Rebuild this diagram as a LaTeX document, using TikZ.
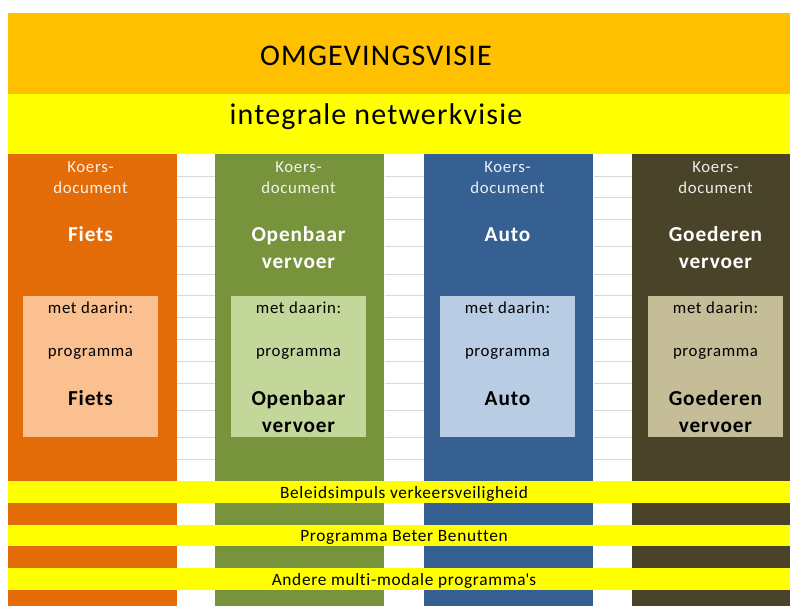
\documentclass[tikz,border=0pt]{standalone}
\usepackage{fontspec}
\setmainfont{Carlito}[LetterSpace=4, Ligatures={TeX,NoCommon}]
\usetikzlibrary{positioning}

\definecolor{koporanje}{HTML}{FFC000}
\definecolor{geel}{HTML}{FFFF00}
\definecolor{rasterlijn}{HTML}{D9D9D9}
\definecolor{fietsdonker}{HTML}{E36C09}
\definecolor{fietslicht}{HTML}{FAC090}
\definecolor{ovdonker}{HTML}{77933C}
\definecolor{ovlicht}{HTML}{C4D79B}
\definecolor{autodonker}{HTML}{366092}
\definecolor{autolicht}{HTML}{B8CCE4}
\definecolor{goederendonker}{HTML}{494429}
\definecolor{goederenlicht}{HTML}{C4BD97}

\begin{document}
\begin{tikzpicture}[x=1pt, y=-1pt,
  tekst/.style={inner sep=0pt, anchor=base, font=\fontsize{16.8}{19}\selectfont},
  band/.style={inner sep=0pt, anchor=base, font=\fontsize{17.3}{19}\selectfont},
  titel/.style={inner sep=0pt, anchor=base, font=\fontsize{30}{34}\selectfont},
  koers/.style={tekst, text=white, text opacity=0.9},
  naam/.style={inner sep=0pt, anchor=base, text=white, font=\bfseries\fontsize{21.3}{24}\selectfont},
  prog/.style={inner sep=0pt, anchor=base, text=black, font=\bfseries\fontsize{21.3}{24}\selectfont}]

\clip (0,0) rectangle (790,606);
\fill[white] (0,0) rectangle (790,606);

% kop
\fill[koporanje] (8,13) rectangle (800,94);
\fill[geel] (8,94) rectangle (800,154);
\node[titel] (omgeving) at (376,65) {OMGEVINGSVISIE};
\node[titel] (netwerk) at (376,124.3) {integrale netwerkvisie};

% kolommen per modaliteit
\foreach \cx/\ix/\donker/\licht/\eerste/\tweede/\id in
  {8/23/fietsdonker/fietslicht/Fiets//fiets,
   215/231/ovdonker/ovlicht/Openbaar/vervoer/ov,
   424/440/autodonker/autolicht/Auto//auto,
   632/648/goederendonker/goederenlicht/Goederen/vervoer/goederen}
{
  \fill[\donker] (\cx,154) rectangle ++(168.5,452);
  \fill[\licht] (\ix,296) rectangle ++(135,141);
  \node[koers] (koers-\id) at (\ix+67.5,172.7) {Koers-};
  \node[koers] (document-\id) at (\ix+67.5,193.3) {document};
  \node[naam] (naam1-\id) at (\ix+67.5,241.2) {\eerste};
  \node[naam] (naam2-\id) at (\ix+67.5,268.8) {\tweede};
  \node[tekst] (daarin-\id) at (\ix+67.5,313.3) {met daarin:};
  \node[tekst] (programma-\id) at (\ix+67.5,356.7) {programma};
  \node[prog] (prog1-\id) at (\ix+67.5,405) {\eerste};
  \node[prog] (prog2-\id) at (\ix+67.5,432.3) {\tweede};
}

% rasterlijnen tussen de kolommen
\foreach \ry in {176.7,197.7,219.7,246.7,274.7,295.7,317.7,339.7,361.7,383.7,410.7,437.7,459.7}
{
  \draw[rasterlijn, line width=1.3pt] (176.5,\ry) -- (215,\ry);
  \draw[rasterlijn, line width=1.3pt] (384.5,\ry) -- (424,\ry);
  \draw[rasterlijn, line width=1.3pt] (593.5,\ry) -- (632,\ry);
}

% programma's over alle modaliteiten
\fill[geel] (8,481) rectangle (800,502.7);
\fill[geel] (8,525) rectangle (800,545.7);
\fill[geel] (8,568) rectangle (800,589.7);
\node[band] (veiligheid) at (404,498) {Beleidsimpuls verkeersveiligheid};
\node[band] (benutten) at (404,541.7) {Programma Beter Benutten};
\node[band] (multimodaal) at (404,585) {Andere multi-modale programma\textquotesingle s};

\end{tikzpicture}
\end{document}
